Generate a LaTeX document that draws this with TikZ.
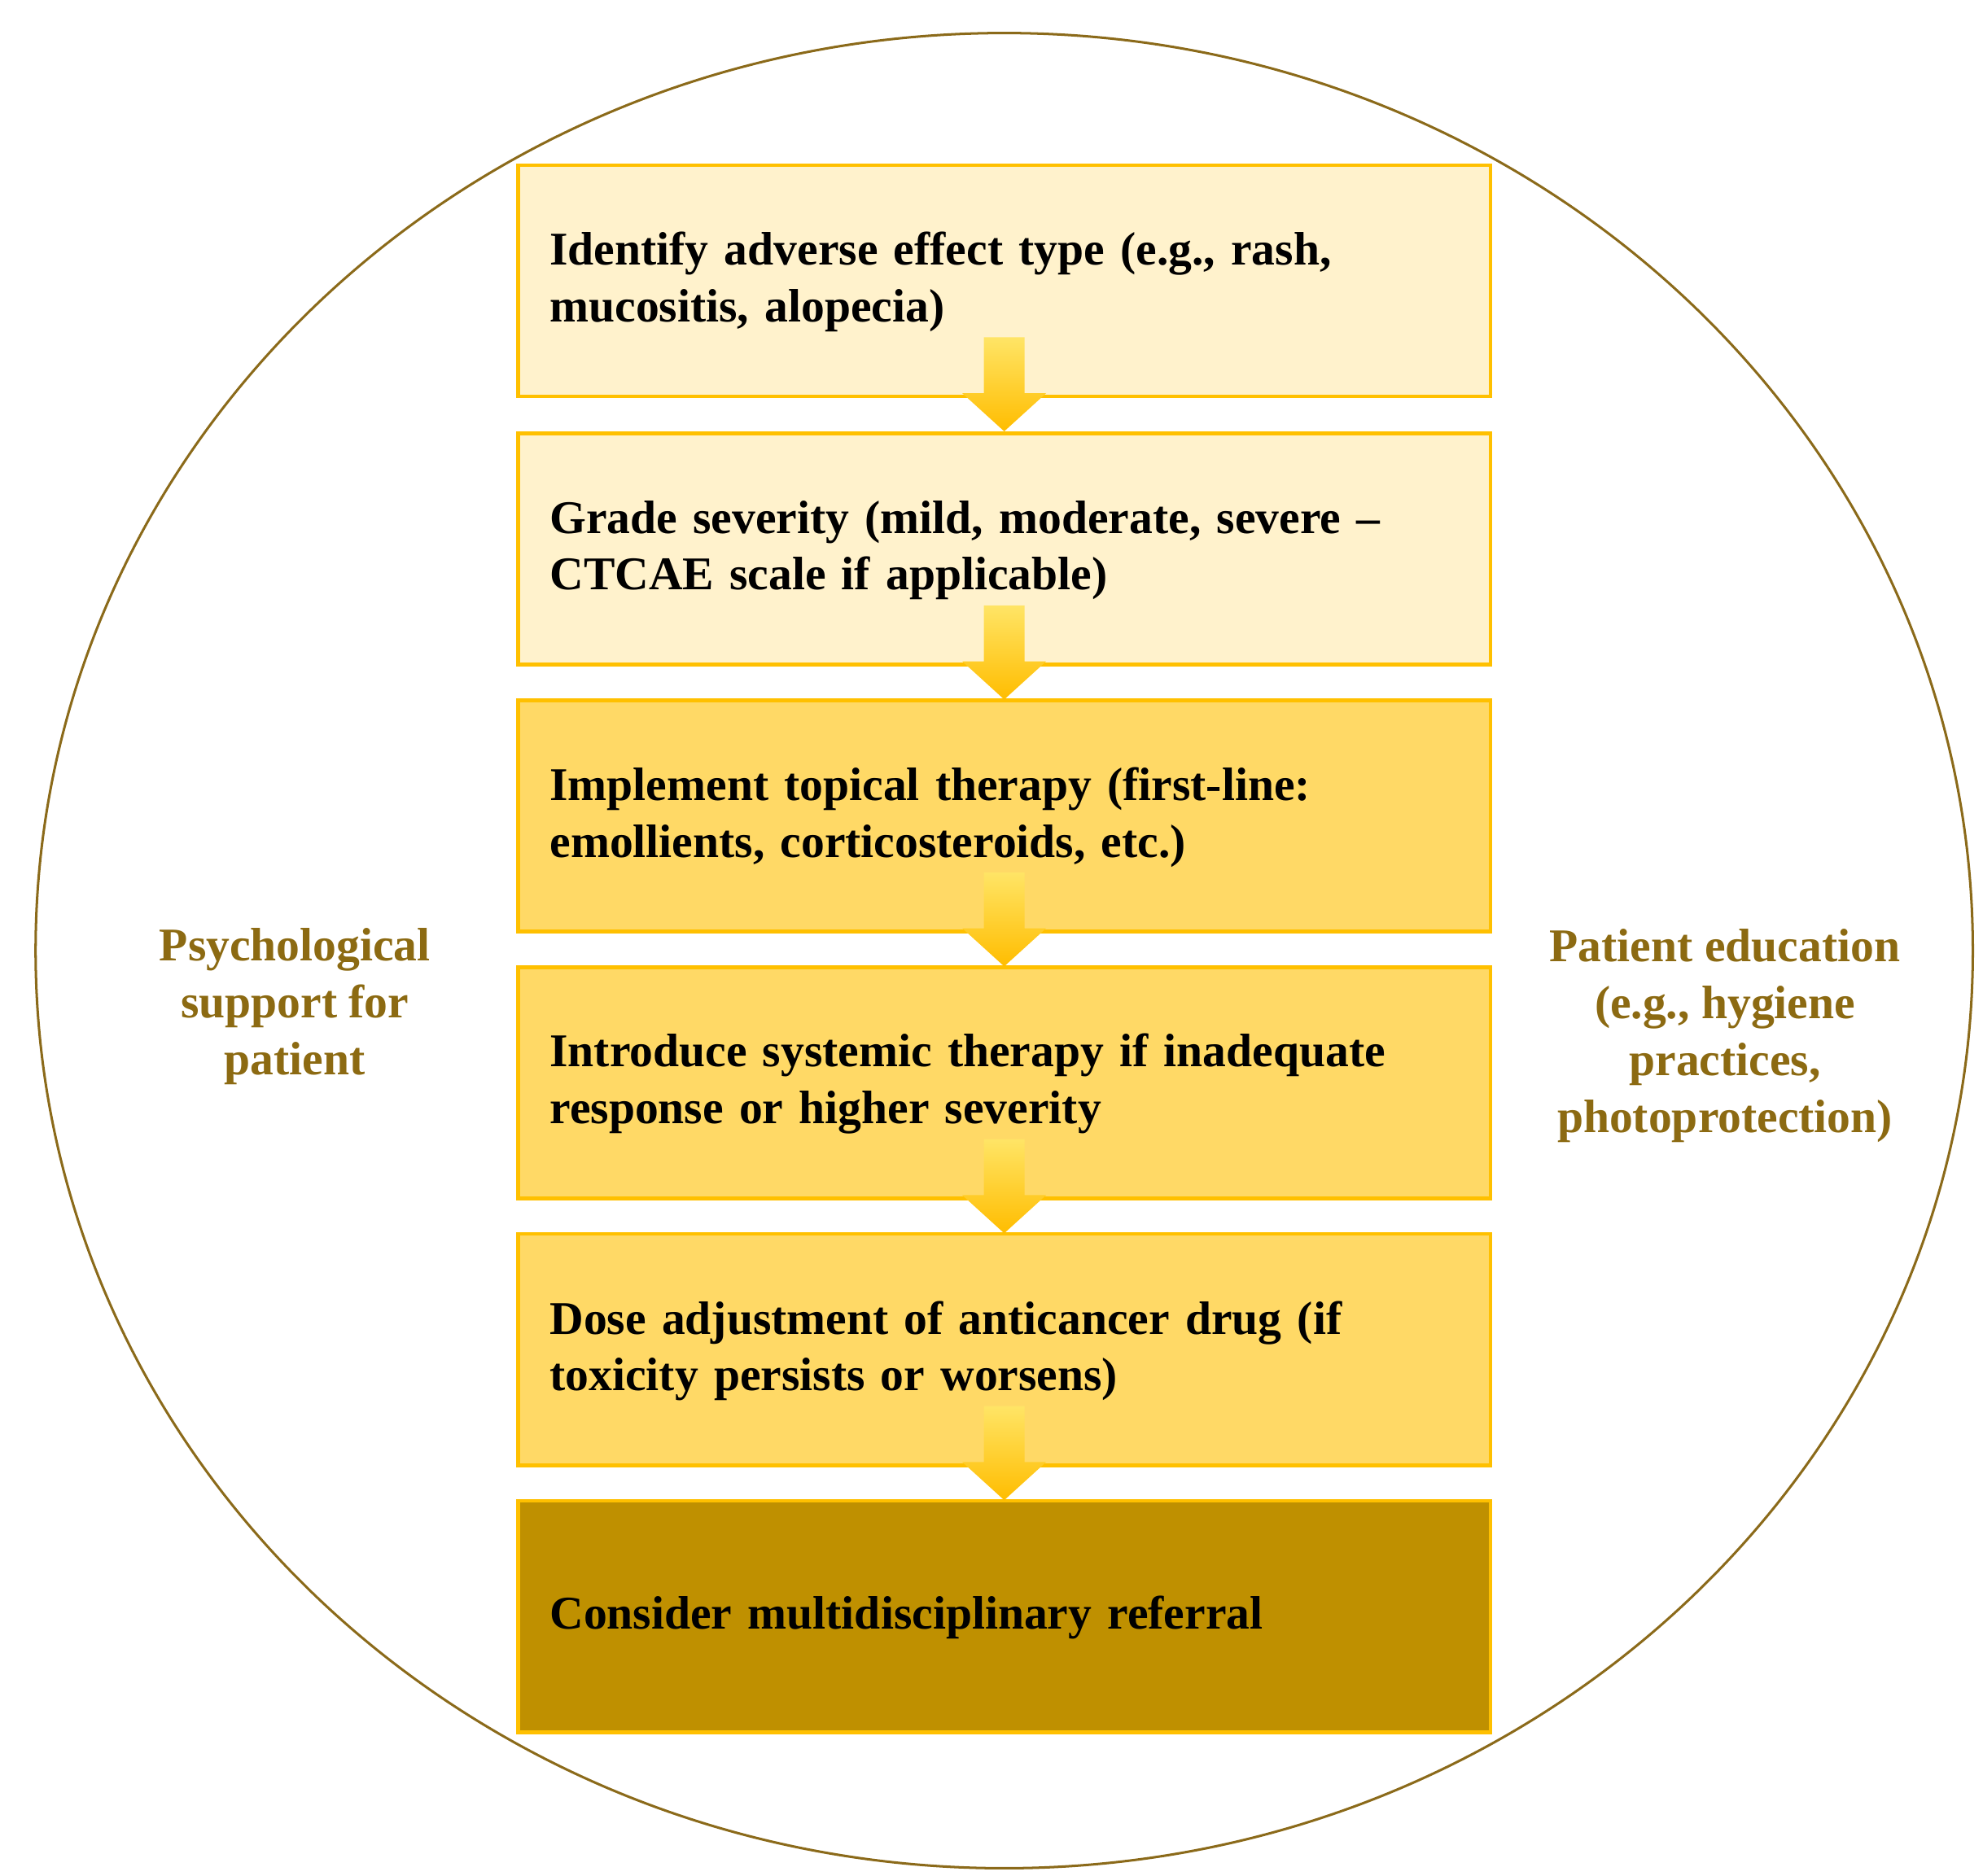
\documentclass[tikz,border=0pt]{standalone}
\usepackage{fontspec}
\setmainfont{Liberation Serif}
\usetikzlibrary{calc}
\definecolor{lightf}{HTML}{FFF2CC}
\definecolor{midf}{HTML}{FFD966}
\definecolor{darkf}{HTML}{BF9000}
\definecolor{bord}{HTML}{FFC000}
\definecolor{side}{HTML}{8C6A12}
\definecolor{circ}{HTML}{8B6A1A}
\newlength{\tw}\setlength{\tw}{14.3cm}
\newcommand{\jline}[1]{\makebox[\tw][s]{#1}}
\begin{document}
\begin{tikzpicture}[x=0.02cm,y=-0.02cm,
  box/.style={draw=bord,line width=1.6pt,minimum width=15.3cm,minimum height=3.64cm,inner sep=0pt},
  txt/.style={text width=\tw,align=left,font=\bfseries\fontsize{21}{25.5}\selectfont,inner sep=0pt},
  side/.style={align=center,text=side,font=\bfseries\fontsize{21}{25.5}\selectfont,inner sep=0pt}]
\useasboundingbox (0,0) rectangle (1560,1476);
\draw[circ,line width=1.1pt] (790,748) ellipse [x radius=762,y radius=722];
\node[box,fill=lightf] (b1) at (790,221) {};
\node[box,fill=lightf] (b2) at (790,432) {};
\node[box,fill=midf] (b3) at (790,642) {};
\node[box,fill=midf] (b4) at (790,852) {};
\node[box,fill=midf] (b5) at (790,1062) {};
\node[box,fill=darkf] (b6) at (790,1272) {};
\foreach \a/\b in {b1/b2,b2/b3,b3/b4,b4/b5,b5/b6}{
  \path (\a.south) ++(0,-48) coordinate (t);
  \shade[top color=bord!70!yellow!60!white,bottom color=bord!95!orange]
    ($(t)+(-16,0)$) -- ($(t)+(16,0)$) -- ($(t)+(16,44)$) -- ($(t)+(33,44)$)
    -- ($(t)+(0,74)$) -- ($(t)+(-33,44)$) -- ($(t)+(-16,44)$) -- cycle;
}
\node[txt] (x1) at (790,222) {\jline{Identify adverse effect type (e.g., rash,}\\mucositis, alopecia)};
\node[txt] (x2) at (790,433) {\jline{Grade severity (mild, moderate, severe --}\\CTCAE scale if applicable)};
\node[txt] (x3) at (790,643) {\jline{Implement topical therapy (first-line:}\\emollients, corticosteroids, etc.)};
\node[txt] (x4) at (790,853) {\jline{Introduce systemic therapy if inadequate}\\response or higher severity};
\node[txt] (x5) at (790,1063) {\jline{Dose adjustment of anticancer drug (if}\\toxicity persists or worsens)};
\node[txt] (x6) at (790,1273) {Consider multidisciplinary referral};
\node[side] (l) at (232,792) {Psychological\\support for\\patient};
\node[side] (r) at (1357,815) {Patient education\\(e.g., hygiene\\practices,\\photoprotection)};
\end{tikzpicture}
\end{document}
